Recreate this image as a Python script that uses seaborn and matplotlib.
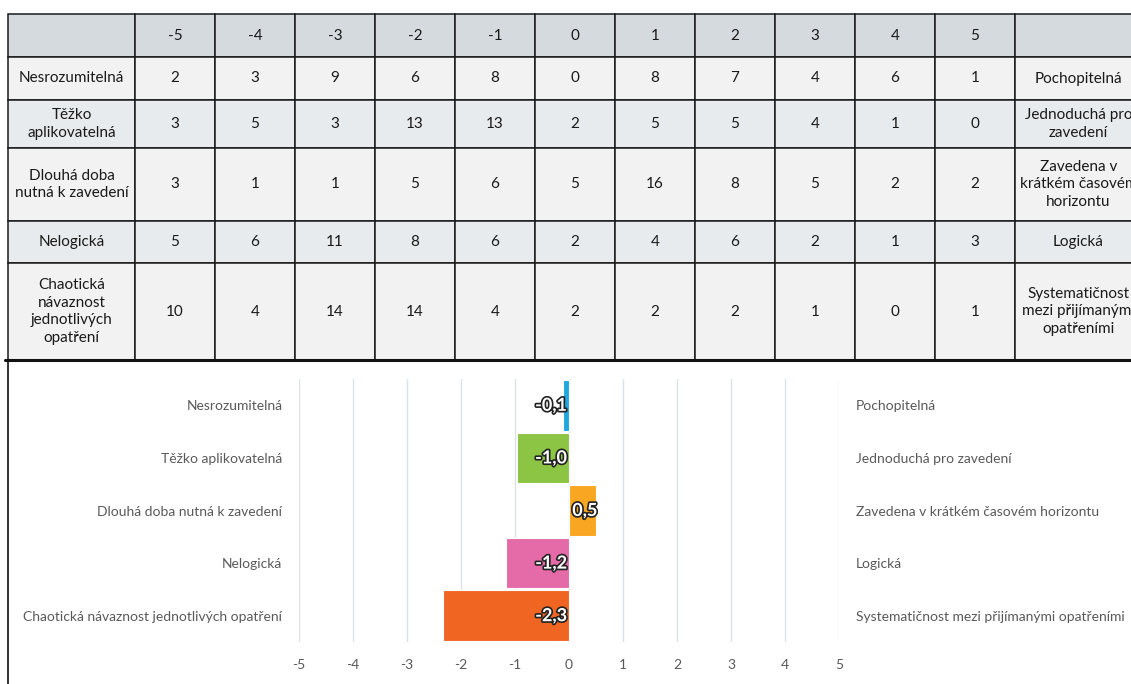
import matplotlib
matplotlib.use("Agg")
import matplotlib.pyplot as plt
import matplotlib.patheffects as pe
import seaborn as sns
import numpy as np
import pandas as pd

# hodnoty skaly v hlavicce tabulky
scale = [-5, -4, -3, -2, -1, 0, 1, 2, 3, 4, 5]

# negativni / pozitivni popisky (tabulka, vice radku)
left_tab = ["Nesrozumitelná", "Těžko\naplikovatelná", "Dlouhá doba\nnutná k zavedení",
            "Nelogická", "Chaotická\nnávaznost\njednotlivých\nopatření"]
right_tab = ["Pochopitelná", "Jednoduchá pro\nzavedení", "Zavedena v\nkrátkém časovém\nhorizontu",
             "Logická", "Systematičnost\nmezi přijímanými\nopatřeními"]

# pocty odpovedi
counts = [
    [2, 3, 9, 6, 8, 0, 8, 7, 4, 6, 1],
    [3, 5, 3, 13, 13, 2, 5, 5, 4, 1, 0],
    [3, 1, 1, 5, 6, 5, 16, 8, 5, 2, 2],
    [5, 6, 11, 8, 6, 2, 4, 6, 2, 1, 3],
    [10, 4, 14, 14, 4, 2, 2, 2, 1, 0, 1],
]

# graf
left_labels = ["Nesrozumitelná", "Těžko aplikovatelná", "Dlouhá doba nutná k zavedení",
               "Nelogická", "Chaotická návaznost jednotlivých opatření"]
right_labels = ["Pochopitelná", "Jednoduchá pro zavedení", "Zavedena v krátkém časovém horizontu",
                "Logická", "Systematičnost mezi přijímanými opatřeními"]
means = [-0.11, -0.96, 0.50, -1.17, -2.33]
colors = ["#1EA7E1", "#8CC443", "#F9A623", "#E46AA8", "#F06522"]

W, H = 1131, 684
sns.set_style("white")
plt.rcParams['font.family'] = ['Lato', 'DejaVu Sans']

fig = plt.figure(figsize=(W / 100, H / 100), dpi=100)

#### tabulka
tab_ax = fig.add_axes([0, 0, 1, 1])
tab_ax.axis("off")

col_w = [127] + [80] * len(scale) + [127]
row_h = [43, 43, 48, 73, 42, 97]
head_c = "#D4DADE"
row_c = ["#F2F2F2", "#E8EBED"]

cell_text = [[""] + [str(s) for s in scale] + [""]]
for i in range(len(counts)):
    cell_text.append([left_tab[i]] + [str(c) for c in counts[i]] + [right_tab[i]])

tbl = tab_ax.table(cellText=cell_text, cellLoc="center",
                   bbox=[8 / W, 1 - 360 / H, sum(col_w) / W, sum(row_h) / H])
tbl.auto_set_font_size(False)
tbl.set_fontsize(11)
for (r, c), cell in tbl.get_celld().items():
    cell.set_width(col_w[c] / W)
    cell.set_height(row_h[r] / H)
    cell.set_edgecolor("#1a1a1a")
    cell.set_linewidth(1.1)
    if r == 0:
        cell.set_facecolor(head_c)
    else:
        cell.set_facecolor(row_c[(r - 1) % 2])
    cell.get_text().set_color("#1a1a1a")
    cell.get_text().set_linespacing(1.35)

# spodni silna cara a leva svisla cara
fig.add_artist(plt.Line2D([5 / W, 1], [1 - 360 / H, 1 - 360 / H], transform=fig.transFigure,
                          color="#111111", lw=2.2))
fig.add_artist(plt.Line2D([8 / W, 8 / W], [0, 1 - 360 / H], transform=fig.transFigure,
                          color="#111111", lw=1.2))

#### graf
ax = fig.add_axes([299 / W, 1 - 642 / H, 540 / W, 263 / H])
ax.patch.set_alpha(0)
df = pd.DataFrame({"kat": left_labels, "prumer": means})
sns.barplot(data=df, x="prumer", y="kat", hue="kat", palette=colors, orient="h",
            saturation=1, width=0.96, edgecolor="white", linewidth=0.8, legend=False,
            ax=ax, zorder=3)

ax.set_xlim(-5, 5)
ax.set_xticks(scale)
ax.set_xticklabels([str(s) for s in scale])
ax.grid(axis="x", color="#DCE1E6", lw=1, zorder=0)
ax.set_axisbelow(True)
ax.set_xlabel("")
ax.set_ylabel("")
for s in ax.spines.values():
    s.set_visible(False)
ax.tick_params(axis="x", length=0, pad=12, labelsize=10, labelcolor="#595959")
ax.tick_params(axis="y", length=0, pad=12, labelsize=10, labelcolor="#595959")

ax2 = ax.twinx()
ax2.set_ylim(ax.get_ylim())
ax2.set_yticks(range(len(right_labels)))
ax2.set_yticklabels(right_labels)
ax2.tick_params(axis="y", length=0, pad=12, labelsize=10, labelcolor="#595959")
for s in ax2.spines.values():
    s.set_visible(False)

for i, v in enumerate(means):
    txt = f"{v:.1f}".replace(".", ",")
    if v < 0:
        x, ha = -0.04, "right"
    else:
        x, ha = 0.06, "left"
    ax.text(x, i, txt, ha=ha, va="center", fontsize=13, fontweight="bold", color="white",
            zorder=5, path_effects=[pe.withStroke(linewidth=2.4, foreground="#222222")])

fig.savefig("out.png", dpi=100)
